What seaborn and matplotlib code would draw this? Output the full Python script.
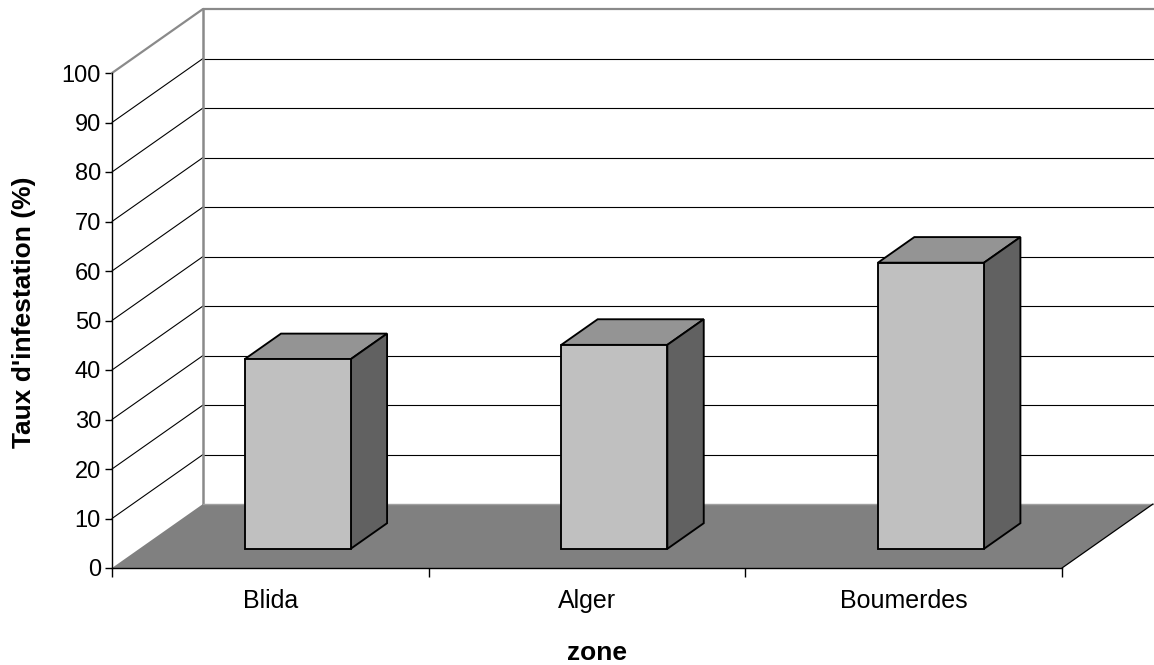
import matplotlib
matplotlib.use("Agg")
import matplotlib.pyplot as plt
import pandas as pd
import seaborn as sns
from matplotlib.patches import Polygon

# Infestation rate per zone
zones = ["Blida", "Alger", "Boumerdes"]
taux = [38.3, 41.2, 57.8]
y_ticks = list(range(0, 101, 10))
y_label = "Taux d'infestation (%)"
x_label = "zone"

sns.set_theme(style="white")
plt.rcParams["font.family"] = ["Liberation Sans", "DejaVu Sans"]

W, H = 1154, 665
fig = plt.figure(figsize=(W / 100, H / 100), dpi=100)
# front plane of the 3-D box
ax = fig.add_axes([112 / W, (H - 568) / H, 950 / W, 495 / H])

df = pd.DataFrame({"zone": zones, "taux": taux})
BAR_W = 0.335
EDGE_LW = 1.35
sns.barplot(data=df, x="zone", y="taux", color="#C0C0C0", saturation=1,
            width=BAR_W, edgecolor="black", linewidth=EDGE_LW, ax=ax, zorder=5)

ax.set_xlim(-0.5, 2.5)
ax.set_ylim(0, 100)

# depth vector of the floor (data units) and the bar slab within it
DX = 91 / (950 / 3)
DY = 64 / (495 / 100)
D0, D1 = 0.30, 0.70

FRONT = "#C0C0C0"
TOP = "#949494"
SIDE = "#616161"
FLOOR = "#808080"
WALL_EDGE = "#8a8a8a"

x0, x1 = -0.5, 2.5
# back wall and its gridlines
ax.add_patch(Polygon([(x0 + DX, DY), (x1 + DX + 0.2, DY),
                      (x1 + DX + 0.2, 100 + DY), (x0 + DX, 100 + DY)],
                     closed=True, facecolor="white", edgecolor="none",
                     zorder=0.5, clip_on=False))
for v in y_ticks[1:]:
    col = WALL_EDGE if v == 100 else "black"
    lw = 1.6 if v == 100 else 0.8
    ax.plot([x0 + DX, x1 + DX + 0.2], [v + DY, v + DY], color=col, lw=lw,
            zorder=0.8, clip_on=False, solid_capstyle="butt")
    ax.plot([x0, x0 + DX], [v, v + DY], color=col, lw=lw,
            zorder=0.8, clip_on=False)
ax.plot([x0 + DX, x0 + DX], [DY, 100 + DY], color=WALL_EDGE, lw=1.8,
        zorder=0.9, clip_on=False)

# floor
ax.add_patch(Polygon([(x0, 0), (x1, 0), (x1 + DX, DY), (x0 + DX, DY)],
                     closed=True, facecolor=FLOOR, edgecolor="none",
                     zorder=1, clip_on=False))
ax.plot([x0 + DX, x1 + DX], [DY, DY], color="#a0a0a0", lw=1.0,
        zorder=1.1, clip_on=False)
ax.plot([x1, x1 + DX], [0, DY], color="black", lw=0.9,
        zorder=1.1, clip_on=False)

# push the bar fronts back into the slab and add their top and side faces
sx, sy = (D1 - D0) * DX, (D1 - D0) * DY
for bar in ax.patches:
    if not isinstance(bar, matplotlib.patches.Rectangle):
        continue
    if bar.get_facecolor()[:3] != matplotlib.colors.to_rgb(FRONT):
        continue
    bar.set_x(bar.get_x() + D0 * DX)
    bar.set_y(D0 * DY)
    bar.set_clip_on(False)
    bar.set_joinstyle("miter")
    bx, by = bar.get_x(), bar.get_y()
    bw, bh = bar.get_width(), bar.get_height()
    top = [(bx, by + bh), (bx + bw, by + bh),
           (bx + bw + sx, by + bh + sy), (bx + sx, by + bh + sy)]
    side = [(bx + bw, by), (bx + bw + sx, by + sy),
            (bx + bw + sx, by + bh + sy), (bx + bw, by + bh)]
    ax.add_patch(Polygon(top, closed=True, facecolor=TOP, edgecolor="black",
                         lw=EDGE_LW, zorder=4, clip_on=False, joinstyle="miter"))
    ax.add_patch(Polygon(side, closed=True, facecolor=SIDE, edgecolor="black",
                         lw=EDGE_LW, zorder=4, clip_on=False, joinstyle="miter"))

# axes, ticks and labels
for s in ["top", "right"]:
    ax.spines[s].set_visible(False)
for s in ["left", "bottom"]:
    ax.spines[s].set_visible(True)
    ax.spines[s].set_color("black")
    ax.spines[s].set_linewidth(1.0)
    ax.spines[s].set_zorder(6)
ax.set_facecolor("none")
ax.grid(False)

ax.set_yticks(y_ticks)
ax.set_yticklabels([str(v) for v in y_ticks], fontsize=17, color="black")
ax.set_xticks([-0.5, 0.5, 1.5, 2.5])
ax.set_xticklabels([])
ax.set_xticks([0, 1, 2], minor=True)
ax.set_xticklabels(zones, minor=True, fontsize=18, color="black")
ax.tick_params(axis="y", which="major", left=True, direction="out",
               length=5, width=1.0, color="black", pad=3)
ax.tick_params(axis="x", which="major", bottom=True, direction="out",
               length=6.5, width=1.0, color="black")
ax.tick_params(axis="x", which="minor", bottom=True, length=0, pad=15)

ax.set_xlabel(x_label, fontsize=19, fontweight="bold", color="black")
ax.xaxis.set_label_coords((596.5 - 112) / 950, (568 - 653) / 495)
ax.xaxis.label.set_va("center")
ax.set_ylabel(y_label, fontsize=19, fontweight="bold", color="black")
ax.yaxis.set_label_coords((24 - 112) / 950, (568 - 312) / 495)
ax.yaxis.label.set_va("center")

fig.savefig("out.png", dpi=100, facecolor="white")
